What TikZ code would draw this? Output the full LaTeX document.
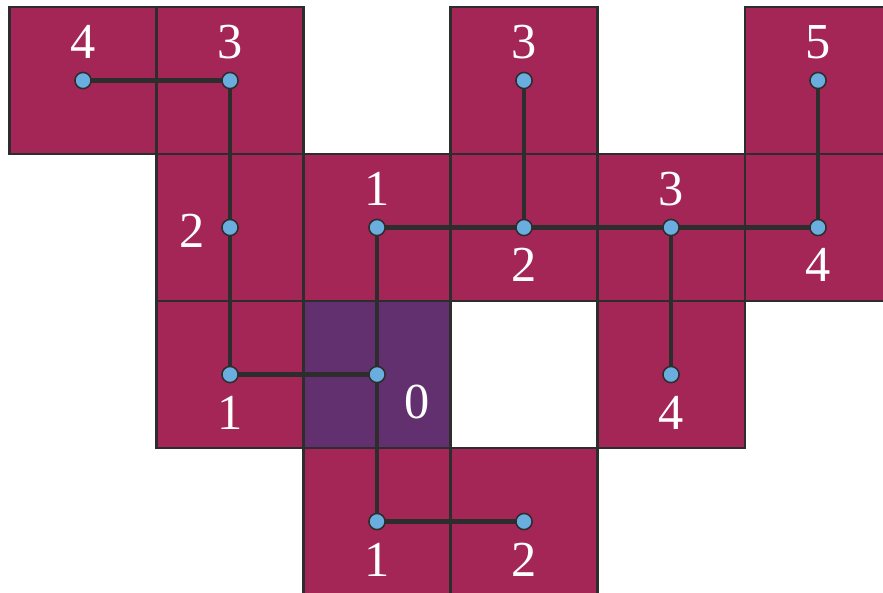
\documentclass[tikz,border=0pt]{standalone}
\usepackage{fontspec}
\setmainfont{Liberation Serif}
\usepackage{tikz}
\usetikzlibrary{calc}
\definecolor{GridRed}{RGB}{164,38,87}
\definecolor{GridPurple}{RGB}{99,48,111}
\definecolor{DotBlue}{RGB}{106,174,224}
\definecolor{LineDark}{RGB}{45,45,45}

\begin{document}
\begin{tikzpicture}[x=2cm,y=2cm, every node/.style={font=\fontsize{19.5}{22}\selectfont}, cell/.style={draw=LineDark,line width=0.8pt,fill=GridRed}, root/.style={draw=LineDark,line width=0.8pt,fill=GridPurple}, dot/.style={circle,draw=LineDark,line width=0.6pt,fill=DotBlue,inner sep=0pt,minimum size=2.2mm}, edge/.style={draw=LineDark,line width=1.8pt}, num/.style={text=white,inner sep=0pt}]
\useasboundingbox (-0.0646,0.0476) rectangle (5.942,-3.980);
% cells of the grid
\foreach \c/\r in {0/0,1/0,3/0,5/0,1/1,2/1,3/1,4/1,5/1,1/2,4/2,2/3,3/3}{\draw[cell] (\c,-\r) rectangle ++(1,-1);}
\draw[root] (2,-2) rectangle ++(1,-1);
% vertices at cell centres
\foreach \c/\r in {0/0,1/0,3/0,5/0,1/1,2/1,3/1,4/1,5/1,1/2,2/2,4/2,2/3,3/3}{\coordinate (p\c\r) at (\c+0.5,-\r-0.5);}
\foreach \a/\b in {p00/p10,p10/p11,p11/p12,p12/p22,p22/p21,p22/p23,p23/p33,p21/p31,p31/p30,p31/p41,p41/p42,p41/p51,p51/p50}{\draw[edge] (\a)--(\b);}
\foreach \c/\r in {0/0,1/0,3/0,5/0,1/1,2/1,3/1,4/1,5/1,1/2,2/2,4/2,2/3,3/3}{\node[dot] (v\c\r) at (p\c\r) {};}
% distance labels
\node[num] (n00) at ([yshift=5.2mm]v00) {4};
\node[num] (n10) at ([yshift=5.2mm]v10) {3};
\node[num] (n30) at ([yshift=5.2mm]v30) {3};
\node[num] (n50) at ([yshift=5.2mm]v50) {5};
\node[num] (n11) at ([xshift=-5.2mm,yshift=-0.5mm]v11) {2};
\node[num] (n21) at ([yshift=5.2mm]v21) {1};
\node[num] (n31) at ([yshift=-5.1mm]v31) {2};
\node[num] (n41) at ([yshift=5.2mm]v41) {3};
\node[num] (n51) at ([yshift=-5.1mm]v51) {4};
\node[num] (n12) at ([yshift=-5.2mm]v12) {1};
\node[num] (n22) at ([xshift=5.5mm,yshift=-3.8mm]v22) {0};
\node[num] (n42) at ([yshift=-5.2mm]v42) {4};
\node[num] (n23) at ([yshift=-5.2mm]v23) {1};
\node[num] (n33) at ([yshift=-5.2mm]v33) {2};
\end{tikzpicture}
\end{document}
